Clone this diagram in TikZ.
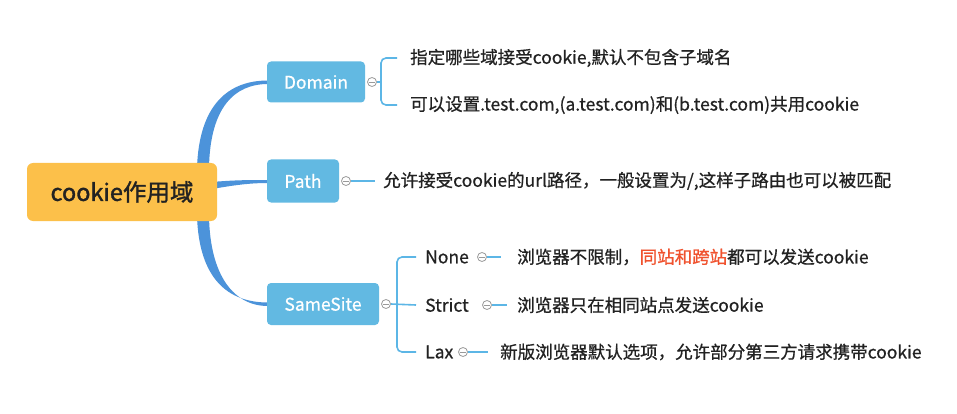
\documentclass[tikz,border=0pt]{standalone}
\usepackage{fontspec}
\setmainfont{Noto Sans CJK SC}
\newfontfamily\medfont{Noto Sans CJK SC}[FakeBold=0.7]
\newfontfamily\rootfont{Noto Sans CJK SC}[FakeBold=1.4]
\usetikzlibrary{calc}
\definecolor{mainline}{HTML}{4C93DA}
\definecolor{topicblue}{HTML}{62B9E2}
\definecolor{centerorange}{HTML}{FCC04A}
\definecolor{brline}{HTML}{5CB6E6}
\definecolor{txt}{HTML}{222222}
\definecolor{hot}{HTML}{F0522E}
\definecolor{knob}{HTML}{9A9A9A}
\tikzset{
  central/.style={fill=centerorange, rounded corners=6pt, minimum width=190pt, minimum height=58pt, text=txt, font=\rootfont\fontsize{23.5}{26}\selectfont, inner sep=0pt},
  topic/.style={fill=topicblue, rounded corners=4pt, minimum height=42pt, text=white, font=\medfont\fontsize{17.5}{20}\selectfont, inner sep=0pt},
  leaf/.style={anchor=west, text=txt, font=\medfont\fontsize{17.5}{20}\selectfont, inner sep=0pt},
  knobc/.style={circle, draw=knob, fill=white, line width=0.8pt, minimum size=9pt, inner sep=0pt,
    path picture={\draw[knob, line width=0.8pt] ([xshift=-2.6pt]path picture bounding box.center) -- ([xshift=2.6pt]path picture bounding box.center);}},
  br/.style={draw=brline, line width=1.6pt, rounded corners=5pt},
  trunk/.style={fill=mainline, draw=none}
}
\begin{document}
\begin{tikzpicture}[x=1pt,y=-1pt]
\useasboundingbox (0,0) rectangle (957,414);
\fill[white] (0,0) rectangle (957,414);

% trunks (drawn beneath nodes)
\fill[trunk] (197,168) .. controls (199,105) and (228,80.5) .. (268,80.5)
  -- (268,84) .. controls (234,84) and (210,108) .. (209,168) -- cycle;
\fill[trunk] (197,216) .. controls (199,279) and (228,302.5) .. (268,302.5)
  -- (268,306) .. controls (234,306) and (210,276) .. (209,216) -- cycle;
\fill[trunk] (212,182) .. controls (235,180) and (250,180) .. (268,180)
  -- (268,183) .. controls (250,183) and (235,185) .. (212,189) -- cycle;

% nodes
\node[central] (root) at (122,192) {cookie作用域};
\node[topic, minimum width=98pt, minimum height=41pt] (domain) at (316,82) {Domain};
\node[topic, minimum width=72pt, minimum height=43pt] (path) at (303,181) {Path};
\node[topic, minimum width=112pt] (samesite) at (323,304) {SameSite};

% Domain children
\node[knobc] (kd) at (372,82) {};
\node[leaf] (d1) at (410,58) {指定哪些域接受cookie,默认不包含子域名};
\node[leaf] (d2) at (410,105) {可以设置.test.com,(a.test.com)和(b.test.com)共用cookie};
\draw[br] (kd.east) -- (381,82);
\draw[br] ([xshift=-13pt]d1.west) -| (381,82) |- ([xshift=-13pt]d2.west);

% Path child
\node[knobc] (kp) at (346,181) {};
\node[leaf] (p1) at (383,181) {允许接受cookie的url路径，一般设置为/,这样子路由也可以被匹配};
\draw[br] (kp.east) -- ([xshift=-8pt]p1.west);

% SameSite children
\node[knobc] (ks) at (386,304) {};
\node[leaf] (none) at (425,257) {None};
\node[leaf] (strict) at (425,305) {Strict};
\node[leaf] (lax) at (425,352) {Lax};
\draw[br] (ks.east) -- ([xshift=-9pt]strict.west);
\draw[br] ([xshift=-9pt]none.west) -| (397,304) |- ([xshift=-9pt]lax.west);

\node[knobc] (kn) at (482,257) {};
\node[knobc] (kst) at (487,305) {};
\node[knobc] (kl) at (463,352) {};
\node[leaf] (n1) at (517,257) {浏览器不限制，\textcolor{hot}{同站和跨站}都可以发送cookie};
\node[leaf] (s1) at (517,305) {浏览器只在相同站点发送cookie};
\node[leaf] (l1) at (500,352) {新版浏览器默认选项，允许部分第三方请求携带cookie};
\draw[br] (kn.east) -- ([xshift=-16pt]n1.west);
\draw[br] (kst.east) -- ([xshift=-10pt]s1.west);
\draw[br] (kl.east) -- ([xshift=-12pt]l1.west);
\end{tikzpicture}
\end{document}
